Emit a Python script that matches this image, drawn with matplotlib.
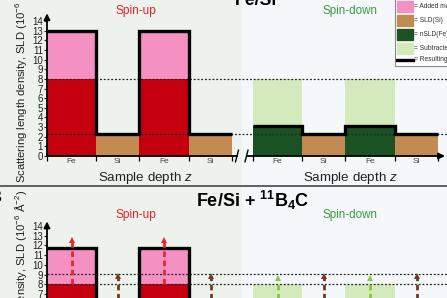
import matplotlib
matplotlib.use("Agg")
import matplotlib.pyplot as plt
from matplotlib.patches import Rectangle
from matplotlib.lines import Line2D
import numpy as np

plt.rcParams['font.family'] = ['Liberation Sans', 'DejaVu Sans']
plt.rcParams['mathtext.fontset'] = 'custom'
plt.rcParams['mathtext.rm'] = 'Liberation Sans'
plt.rcParams['mathtext.it'] = 'Liberation Sans:italic'
plt.rcParams['mathtext.bf'] = 'Liberation Sans:bold'

# ---------------- data ----------------
layers = ["Fe", "Si", "Fe", "Si"]
y_ticks_top = list(range(0, 15))
y_ticks_bot = list(range(7, 15))   # lower ticks are outside the visible crop

# Panel A: Fe/Si
top_nsld = [8.0, 2.3, 8.0, 2.3]          # nuclear SLD (Fe / Si)
top_up_total = [13.0, 2.3, 13.0, 2.3]    # resulting SLD, spin-up
top_down_total = [3.1, 2.3, 3.1, 2.3]    # resulting SLD, spin-down
top_ref_lines = [8.0, 2.3]

# Panel B: Fe/Si + 11B4C
bot_nsld = [8.0, 2.3, 8.0, 2.3]
bot_up_total = [11.7, 4.3, 11.7, 4.3]
bot_down_total = [4.3, 4.3, 4.3, 4.3]
bot_ref_lines = [9.1, 8.0]
bot_up_arrow_start = [8.0, 4.3, 8.0, 4.3]
bot_up_arrow_tip = [12.9, 9.2, 12.9, 9.2]
bot_down_arrow_start = [4.3, 4.3, 4.3, 4.3]
bot_down_arrow_tip = [9.0, 9.2, 9.0, 9.2]

legend_labels = ["= Added magnetic SLD", "= SLD(Si)", "= nSLD(Fe)",
                 "= Subtracted magnetic SLD", "= Resulting SLD"]

# ---------------- styles / layout ----------------
W, H = 447, 298
C_RED = '#c4000f'
C_PINK = '#f490c2'
C_BROWN = '#c38b52'
C_DGREEN = '#1b5224'
C_LGREEN = '#d3eabd'
C_BG_L = '#edf3ec'
C_BG_R = '#f4f8fb'
A_RED = '#e8262c'
A_BROWN = '#6e3a22'
A_GREEN = '#8cc63f'

widths = np.array([49, 43, 50, 43], dtype=float)
edges_up = np.concatenate([[0], np.cumsum(widths)])
edges_down = edges_up + 206

fig = plt.figure(figsize=(W / 100, H / 100), dpi=100)


def fx(px):
    return px / W


def fy(py):
    return 1 - py / H


# backgrounds
fig.add_artist(Rectangle((0, 0), fx(242), 1, transform=fig.transFigure,
                         color=C_BG_L, zorder=-10))
fig.add_artist(Rectangle((fx(242), 0), 1 - fx(242), 1, transform=fig.transFigure,
                         color=C_BG_R, zorder=-10))
fig.add_artist(Line2D([0, 1], [fy(186), fy(186)], transform=fig.transFigure,
                      color='#555555', lw=1.3))


def txt(px, py, s, **kw):
    fig.text(fx(px), fy(py), s, **kw)


def draw_panel(ax, nsld, up_total, down_total, ref_lines, arrow_top, yticks,
               show_xlabels):
    ax.set_xlim(0, 400)
    ax.set_ylim(0, 15)
    ax.patch.set_alpha(0)
    for sp in ax.spines.values():
        sp.set_visible(False)
    # bars
    for i, lay in enumerate(layers):
        w = widths[i]
        if lay == "Fe":
            ax.bar(edges_up[i], nsld[i], width=w, align='edge', color=C_RED, zorder=2)
            ax.bar(edges_up[i], up_total[i] - nsld[i], bottom=nsld[i], width=w,
                   align='edge', color=C_PINK, zorder=2)
            ax.bar(edges_down[i], down_total[i], width=w, align='edge',
                   color=C_DGREEN, zorder=2)
            ax.bar(edges_down[i], nsld[i] - down_total[i], bottom=down_total[i],
                   width=w, align='edge', color=C_LGREEN, zorder=2)
        else:
            ax.bar(edges_up[i], nsld[i], width=w, align='edge', color=C_BROWN, zorder=2)
            ax.bar(edges_down[i], nsld[i], width=w, align='edge', color=C_BROWN, zorder=2)
    for yv in ref_lines:
        ax.axhline(yv, color='#222222', lw=0.9, ls=(0, (1.5, 1.5)), zorder=3)
    ax.stairs(up_total, edges_up, baseline=None, color='k', lw=2.4, zorder=4)
    ax.stairs(down_total, edges_down, baseline=None, color='k', lw=2.4, zorder=4)
    # y axis
    ax.set_yticks(yticks)
    ax.tick_params(axis='y', direction='out', length=2.5, width=0.8, pad=0.5,
                   labelsize=7, colors='#222222')
    ax.annotate('', xy=(0, arrow_top), xytext=(0, 0),
                arrowprops=dict(arrowstyle='-|>', lw=1.3, color='k',
                                mutation_scale=9, shrinkA=0, shrinkB=0),
                annotation_clip=False, zorder=6)
    if not show_xlabels:
        ax.set_xticks([])
        return
    # x axis (broken)
    ax.plot([0, 190], [0, 0], color='k', lw=1.3, clip_on=False, zorder=6)
    ax.annotate('', xy=(398, 0), xytext=(200.5, 0),
                arrowprops=dict(arrowstyle='-|>', lw=1.3, color='k',
                                mutation_scale=9, shrinkA=0, shrinkB=0),
                annotation_clip=False, zorder=6)
    for d in (190, 199.5):
        ax.plot([d - 1.5, d + 1.5], [-0.6, 0.6], color='k', lw=1.0,
                clip_on=False, zorder=6)
    bounds = list(edges_up) + list(edges_down)
    ax.set_xticks(bounds)
    ax.set_xticklabels([])
    ax.tick_params(axis='x', which='major', direction='out', length=3.5,
                   width=0.9, colors='k')
    centers = list(edges_up[:-1] + widths / 2) + list(edges_down[:-1] + widths / 2)
    ax.set_xticks(centers, minor=True)
    ax.set_xticklabels(layers + layers, minor=True)
    ax.tick_params(axis='x', which='minor', length=0, pad=1.5, labelsize=6,
                   labelcolor='#444444')


# ---- panel A ----
ax1 = fig.add_axes([fx(47), fy(156), fx(400), 15 * 9.64 / H])
draw_panel(ax1, top_nsld, top_up_total, top_down_total, top_ref_lines, 14.8,
           y_ticks_top, True)

# ---- panel B ----
ax2 = fig.add_axes([fx(47), fy(362.5), fx(400), 15 * 9.76 / H])
draw_panel(ax2, bot_nsld, bot_up_total, bot_down_total, bot_ref_lines, 14.45,
           y_ticks_bot, False)


def arrows(ax, xs, starts, tips, colors):
    for x, s, t, c in zip(xs, starts, tips, colors):
        ax.plot([x, x], [s, t - 0.45], color=c, lw=2.0, ls=(0, (2, 1.3)),
                solid_capstyle='butt', dash_capstyle='butt', zorder=5)
        ax.plot([x], [t - 0.3], marker='^', ms=5, color=c, mew=0, zorder=5)


cen_up = edges_up[:-1] + widths / 2
cen_dn = edges_down[:-1] + widths / 2
arrows(ax2, cen_up, bot_up_arrow_start, bot_up_arrow_tip,
       [A_RED if l == "Fe" else A_BROWN for l in layers])
arrows(ax2, cen_dn, bot_down_arrow_start, bot_down_arrow_tip,
       [A_GREEN if l == "Fe" else A_BROWN for l in layers])

# ---- texts ----
ylab = r"Scattering length density, SLD (10$^{-6}$ Å$^{-2}$)"
txt(21, 183, ylab, rotation=90, ha='center', va='bottom', fontsize=8.1, color='#222222')
txt(21, 190, ylab, rotation=90, ha='center', va='top', fontsize=8.1, color='#222222')
txt(145, 181, r"Sample depth $z$", ha='center', va='baseline', fontsize=9.6, color='#222222')
txt(350, 181, r"Sample depth $z$", ha='center', va='baseline', fontsize=9.6, color='#222222')

txt(256, 5, "Fe/Si", ha='center', va='baseline', fontsize=12.7, fontweight='bold')
txt(253, 207, r"Fe/Si + $\mathbf{{}^{11}B_4C}$", ha='center', va='baseline',
    fontsize=13, fontweight='bold')
txt(-10, 202, "B", ha='left', va='baseline', fontsize=12, fontweight='bold')

for py in (11, 215):
    txt(136, py, "Spin-up", ha='center', va='center', fontsize=8.6, color='#e8202a')
    txt(350, py, "Spin-down", ha='center', va='center', fontsize=8.4, color='#3d9a3d')

# ---- legend (partially outside the figure) ----
fig.add_artist(Rectangle((fx(395), fy(66)), fx(80), fy(-10) - fy(66),
                         transform=fig.transFigure, facecolor='white',
                         edgecolor='#8a8a8a', lw=0.8, zorder=8))
leg_colors = [C_PINK, C_BROWN, C_DGREEN, C_LGREEN, None]
row_y = [6, 20, 34, 48, 60]
for lab, col, ry in zip(legend_labels, leg_colors, row_y):
    if col is None:
        fig.add_artist(Line2D([fx(397), fx(413)], [fy(ry), fy(ry)],
                              transform=fig.transFigure, color='k', lw=2.4, zorder=9))
    else:
        fig.add_artist(Rectangle((fx(397), fy(ry + 5.5)), fx(16), 11 / H,
                                 transform=fig.transFigure, color=col, zorder=9))
    txt(413.5, ry, lab, ha='left', va='center', fontsize=4.8, color='#333333', zorder=9)

fig.savefig("out.png", dpi=100)
